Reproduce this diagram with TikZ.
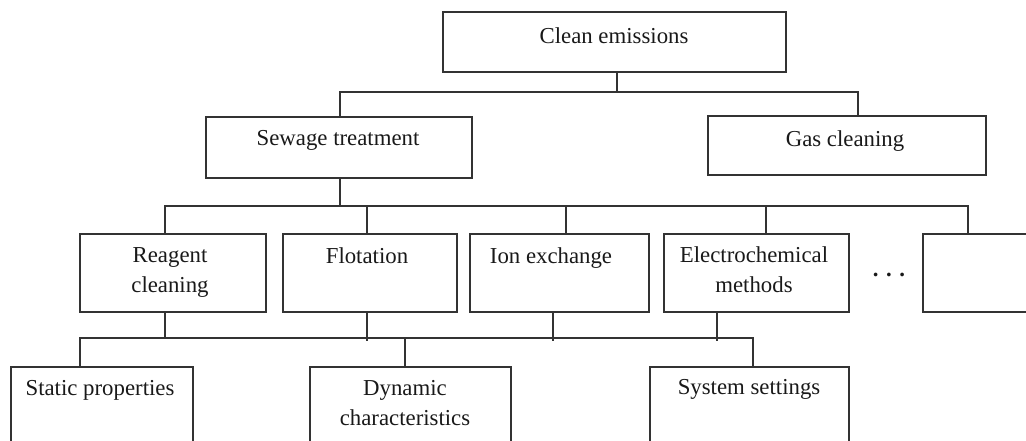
\documentclass[tikz,border=0pt]{standalone}
\usepackage{fontspec}
\setmainfont{Liberation Serif}
\begin{document}
\begin{tikzpicture}[x=1pt,y=-1pt,
  box/.style={draw=black!80,line width=1.6pt,rectangle,inner sep=0pt,outer sep=0pt,anchor=north west},
  txt/.style={font=\fontsize{22.8}{30}\selectfont,align=center,inner sep=0pt,anchor=north,text=black!90},
  conn/.style={draw=black!80,line width=1.6pt}]
\useasboundingbox (0,0) rectangle (1026,440);
\clip (0,0) rectangle (1026,440);
% boxes
\node[box,minimum width=343pt,minimum height=60pt] (clean) at (443,12) {};
\node[box,minimum width=266pt,minimum height=61pt] (sewage) at (206,117) {};
\node[box,minimum width=278pt,minimum height=59pt] (gas) at (708,116) {};
\node[box,minimum width=186pt,minimum height=78pt] (reagent) at (80,234) {};
\node[box,minimum width=174pt,minimum height=78pt] (flot) at (283,234) {};
\node[box,minimum width=179pt,minimum height=78pt] (ion) at (470,234) {};
\node[box,minimum width=185pt,minimum height=78pt] (electro) at (664,234) {};
\node[box,minimum width=130pt,minimum height=78pt] (last) at (923,234) {};
\node[box,minimum width=182pt,minimum height=100pt] (static) at (11,367) {};
\node[box,minimum width=201pt,minimum height=100pt] (dynamic) at (310,367) {};
\node[box,minimum width=199pt,minimum height=100pt] (system) at (650,367) {};
% texts
\node[txt] (tclean) at (614,27) {Clean emissions};
\node[txt] (tsewage) at (338,130) {Sewage treatment};
\node[txt] (tgas) at (845,130) {Gas cleaning};
\node[txt] (treagent) at (170,247) {Reagent\\cleaning};
\node[txt] (tflot) at (367,247) {Flotation};
\node[txt] (tion) at (551,247) {Ion exchange};
\node[txt] (telectro) at (754,246) {Electrochemical\\methods};
\node[txt] (tdots) at (889,273) {\textbf{. . .}};
\node[txt] (tstatic) at (100,380) {Static properties};
\node[txt] (tdynamic) at (405,380) {Dynamic\\characteristics};
\node[txt] (tsystem) at (749,379) {System settings};
% connectors level 1
\coordinate (j1) at (617,92);
\draw[conn] (617,0 |- clean.south) -- (j1);
\draw[conn] (340,0 |- sewage.north) |- (858,92) -- (858,0 |- gas.north);
% connectors level 2
\coordinate (j2) at (340,206);
\draw[conn] (340,0 |- sewage.south) -- (j2);
\draw[conn] (165,0 |- reagent.north) |- (968,206) -- (968,0 |- last.north);
\draw[conn] (367,206) -- (367,0 |- flot.north);
\draw[conn] (566,206) -- (566,0 |- ion.north);
\draw[conn] (766,206) -- (766,0 |- electro.north);
% connectors level 3
\draw[conn] (165,0 |- reagent.south) -- (165,338);
\draw[conn] (367,0 |- flot.south) -- (367,341);
\draw[conn] (553,0 |- ion.south) -- (553,341);
\draw[conn] (717,0 |- electro.south) -- (717,341);
\draw[conn] (80,0 |- static.north) |- (753,338) -- (753,0 |- system.north);
\draw[conn] (405,338) -- (405,0 |- dynamic.north);
\end{tikzpicture}
\end{document}
